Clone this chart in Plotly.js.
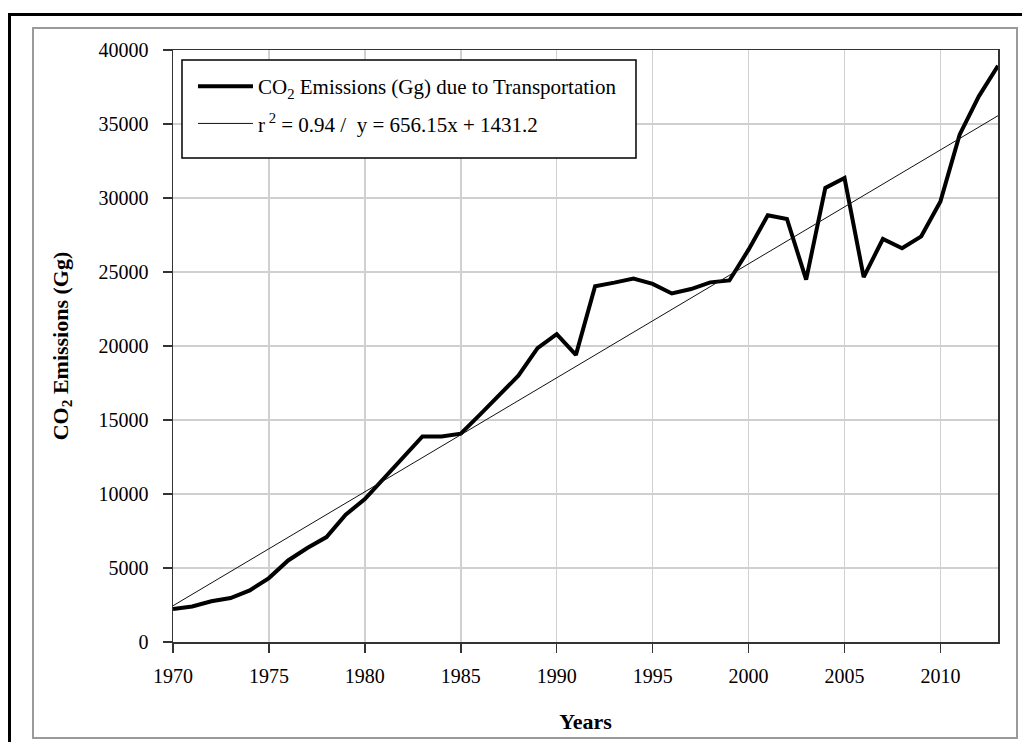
<!DOCTYPE html>
<html>
<head>
<meta charset="utf-8">
<script src="https://cdn.plot.ly/plotly-3.0.1.min.js"></script>
<style>
  html, body { margin: 0; padding: 0; background: #ffffff; overflow: hidden; }
  #outer { position: absolute; left: 8px; top: 13px; width: 1100px; height: 800px; border: 3px solid #000; z-index: 0; }
  #inner { position: absolute; left: 32px; top: 27px; width: 982px; height: 708px; border: 2px solid #9a9a9a; z-index: 1; }
  #chart { position: absolute; left: 0; top: 0; width: 1022px; height: 742px; z-index: 2; }
</style>
</head>
<body>
<div id="outer"></div>
<div id="inner"></div>
<div id="chart"></div>
<script>
// Years and CO2 emissions (Gg) due to transportation
const years = [1970, 1971, 1972, 1973, 1974, 1975, 1976, 1977, 1978, 1979,
               1980, 1981, 1982, 1983, 1984, 1985, 1986, 1987, 1988, 1989,
               1990, 1991, 1992, 1993, 1994, 1995, 1996, 1997, 1998, 1999,
               2000, 2001, 2002, 2003, 2004, 2005, 2006, 2007, 2008, 2009,
               2010, 2011, 2012, 2013];
const emissions = [2230, 2400, 2750, 2970, 3490, 4320, 5510, 6350, 7090, 8600,
                   9660, 11080, 12540, 13890, 13890, 14080, 15360, 16710, 17990, 19860,
                   20800, 19400, 24040, 24280, 24550, 24200, 23550, 23850, 24300, 24430,
                   26510, 28830, 28580, 24480, 30680, 31350, 24660, 27230, 26600, 27410,
                   29770, 34280, 36870, 38940];
// Linear trend line end points as drawn on the chart
const trendYears = [1970, 2013];
const trendValues = [2450, 35560];

const seriesName = 'CO<sub>2</sub> Emissions (Gg) due to Transportation';
const trendName = 'r<sup> 2</sup> = 0.94 /  y = 656.15x + 1431.2';
const xTickVals = [1970, 1975, 1980, 1985, 1990, 1995, 2000, 2005, 2010];
const yTickVals = [0, 5000, 10000, 15000, 20000, 25000, 30000, 35000, 40000];

const serif = 'Liberation Serif, Times New Roman, serif';

const traces = [
  {
    x: years, y: emissions, type: 'scatter', mode: 'lines',
    name: seriesName, legendgroup: 'a',
    line: { color: '#000000', width: 4 }
  },
  {
    x: trendYears, y: trendValues, type: 'scatter', mode: 'lines',
    name: trendName, legendgroup: 'b',
    line: { color: '#111111', width: 1 }
  }
];

const layout = {
  width: 1022, height: 742,
  margin: { l: 173, r: 24, t: 50, b: 100, pad: 0 },
  paper_bgcolor: 'rgba(0,0,0,0)',
  plot_bgcolor: '#ffffff',
  showlegend: true,
  legend: {
    x: 0.0242, y: 0.973, xanchor: 'left', yanchor: 'top',
    bgcolor: 'rgba(0,0,0,0)', borderwidth: 0,
    font: { family: serif, size: 21, color: '#000000' },
    tracegroupgap: 7, itemwidth: 55, traceorder: 'grouped'
  },
  shapes: [
    { type: 'rect', xref: 'paper', yref: 'paper', layer: 'above',
      x0: 0.0109, x1: 0.5612, y0: 0.8176, y1: 0.9831,
      fillcolor: '#ffffff', line: { color: '#000000', width: 1.5 } }
  ],
  xaxis: {
    range: [1970, 2013], tickvals: xTickVals, ticktext: xTickVals.map(String),
    showgrid: true, gridcolor: '#d0d0d0', gridwidth: 1.5,
    showline: true, linecolor: '#333333', linewidth: 1.5, mirror: true,
    ticks: 'outside', ticklen: 9, tickcolor: '#333333', tickwidth: 1.5,
    ticklabelstandoff: 6,
    tickfont: { family: serif, size: 20, color: '#000000' },
    zeroline: false,
    title: { text: '<b>Years</b>', standoff: 28, font: { family: serif, size: 22, color: '#000000' } }
  },
  yaxis: {
    range: [0, 40000], tickvals: yTickVals, ticktext: yTickVals.map(String),
    showgrid: true, gridcolor: '#d0d0d0', gridwidth: 1.5,
    showline: true, linecolor: '#333333', linewidth: 1.5, mirror: true,
    ticks: 'outside', ticklen: 9, tickcolor: '#333333', tickwidth: 1.5,
    ticklabelstandoff: 10,
    tickfont: { family: serif, size: 20, color: '#000000' },
    zeroline: false,
    title: { text: '<b>CO<sub>2</sub> Emissions (Gg)</b>', standoff: 24, font: { family: serif, size: 22, color: '#000000' } }
  }
};

Plotly.newPlot('chart', traces, layout, { displayModeBar: false, staticPlot: true });
</script>
</body>
</html>
